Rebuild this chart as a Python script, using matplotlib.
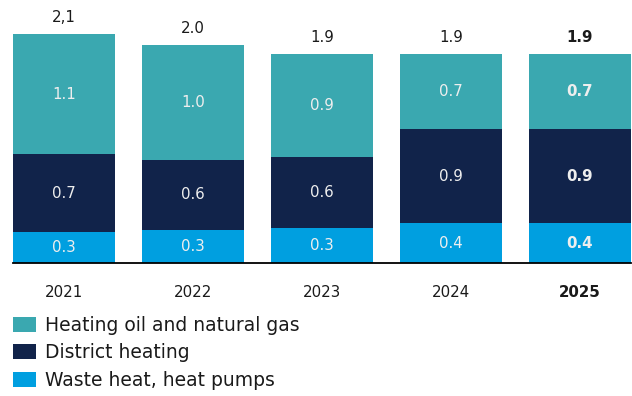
import matplotlib.pyplot as plt
import numpy as np

plt.rcParams['font.family'] = ['DejaVu Sans']

years = ['2021', '2022', '2023', '2024', '2025']
waste_heat = [0.28, 0.30, 0.32, 0.36, 0.36]
district = [0.71, 0.64, 0.64, 0.86, 0.86]
oil_gas = [1.09, 1.04, 0.94, 0.68, 0.68]
total_labels = ['2,1', '2.0', '1.9', '1.9', '1.9']

series = [
    ('Waste heat, heat pumps', waste_heat, '#009fe0'),
    ('District heating', district, '#11234a'),
    ('Heating oil and natural gas', oil_gas, '#3aa8b0'),
]

fig = plt.figure(figsize=(6.32, 3.96), dpi=100)
W, H = 632, 396
bw = 102 / 129
ax = fig.add_axes([13 / W, (H - 263) / H, 618 / W, 2.3 * 110 / H])

x = np.arange(len(years))
bottom = np.zeros(len(years))
handles = []
for name, vals, col in series:
    b = ax.bar(x, vals, bw, bottom=bottom, color=col, label=name, zorder=2)
    handles.append(b)
    for i, v in enumerate(vals):
        bold = i == len(years) - 1
        ax.text(x[i], bottom[i] + v / 2, f'{v:.1f}', ha='center', va='center',
                color='#eeeeee', fontsize=10.8,
                fontweight='bold' if bold else 'normal')
    bottom += np.array(vals)

# totals above each stack
for i, t in enumerate(total_labels):
    bold = i == len(years) - 1
    ax.annotate(t, (x[i], bottom[i]), xytext=(0, 12), textcoords='offset points',
                ha='center', va='center', color='#1a1a1a', fontsize=10.8,
                fontweight='bold' if bold else 'normal', annotation_clip=False)

ax.set_xlim(-bw / 2, len(years) - 1 + bw / 2)
ax.set_ylim(0, 2.3)
ax.set_yticks([])
ax.set_xticks(x)
ax.set_xticklabels(years, fontsize=10.8, color='#1a1a1a')
ax.get_xticklabels()[-1].set_fontweight('bold')
ax.tick_params(axis='x', length=0, pad=16)
for s in ['top', 'right', 'left']:
    ax.spines[s].set_visible(False)
ax.spines['bottom'].set_color('#000000')
ax.spines['bottom'].set_linewidth(1.3)
ax.spines['bottom'].set_zorder(3)

fs = 13.5
px = fs * 100 / 72
leg = fig.legend(handles[::-1], [s[0] for s in series][::-1],
                 loc='upper left', bbox_to_anchor=(13 / W, 1 - 316 / H),
                 frameon=False, fontsize=fs, handlelength=23 / px,
                 handleheight=16 / px, handletextpad=9 / px, labelspacing=0.45,
                 borderpad=0, borderaxespad=0)
for t in leg.get_texts():
    t.set_color('#1a1a1a')

fig.savefig('out.png', dpi=100)
